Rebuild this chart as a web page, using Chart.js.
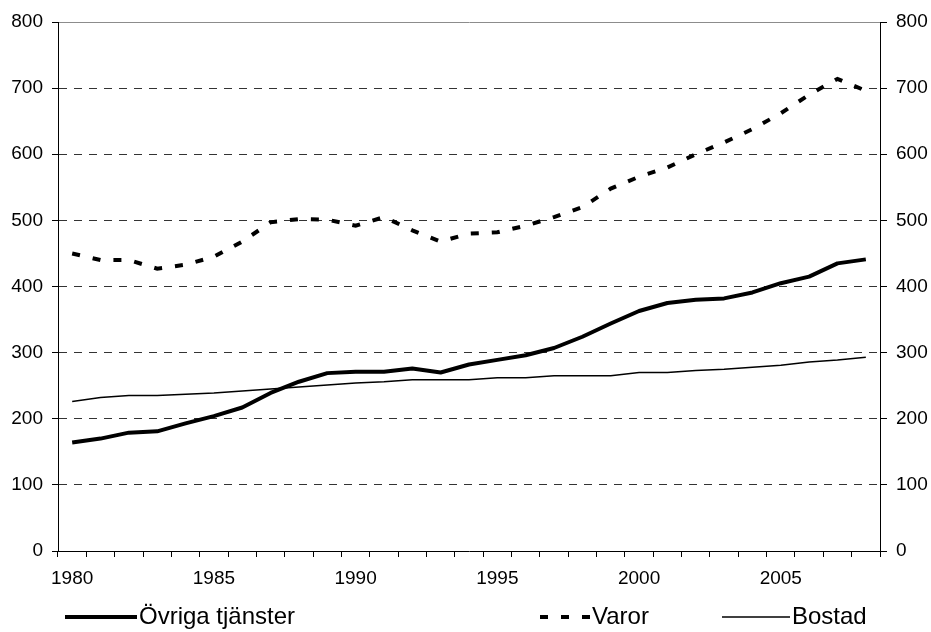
<!DOCTYPE html>
<html>
<head>
<meta charset="utf-8">
<script src="https://cdn.jsdelivr.net/npm/chart.js@4.4.0/dist/chart.umd.min.js"></script>
<style>
  html, body { margin: 0; padding: 0; background: #fff; }
  #wrap { width: 931px; height: 632px; }
</style>
</head>
<body>
<div id="wrap"><canvas id="chart" width="931" height="632"></canvas></div>
<script>
// år på x-axeln
const years = [1980, 1981, 1982, 1983, 1984, 1985, 1986, 1987, 1988, 1989,
  1990, 1991, 1992, 1993, 1994, 1995, 1996, 1997, 1998, 1999,
  2000, 2001, 2002, 2003, 2004, 2005, 2006, 2007, 2008];

const ovrigaTjanster = [164, 170, 179, 181, 193, 204, 217, 239, 256, 269,
  271, 271, 276, 270, 282, 289, 296, 307, 324, 344,
  363, 375, 380, 382, 391, 405, 415, 435, 441];

const varor = [450, 440, 440, 427, 433, 445, 468, 497, 502, 501,
  492, 505, 485, 468, 480, 482, 492, 505, 520, 548,
  566, 580, 600, 618, 638, 662, 690, 714, 696];

const bostad = [226, 232, 235, 235, 237, 239, 242, 245, 248, 251,
  254, 256, 259, 259, 259, 262, 262, 265, 265, 265,
  270, 270, 273, 275, 278, 281, 286, 289, 293];

const yTicks = [0, 100, 200, 300, 400, 500, 600, 700, 800];

// legendens placering (linjeprov + text)
const legendSlots = [
  { x0: 65, x1: 137 },
  { x0: 527, x1: 590 },
  { x0: 722, x1: 790 }
];
const legendY = 617;

Chart.defaults.font.family = '"Liberation Sans", Arial, sans-serif';
Chart.defaults.color = "#000";

const bottomLegend = {
  id: "bottomLegend",
  afterDraw(chart) {
    const ctx = chart.ctx;
    chart.data.datasets.forEach((ds, i) => {
      const slot = legendSlots[i];
      ctx.save();
      ctx.strokeStyle = ds.borderColor;
      ctx.lineWidth = ds.borderWidth;
      ctx.setLineDash(ds.borderDash || []);
      // streckat prov ska sluta med ett streck intill texten
      ctx.lineDashOffset = ds.borderDash ? ds.borderDash[0] : 0;
      ctx.beginPath();
      ctx.moveTo(slot.x0, legendY);
      ctx.lineTo(slot.x1, legendY);
      ctx.stroke();
      ctx.setLineDash([]);
      ctx.fillStyle = "#000";
      ctx.font = '24px "Liberation Sans", Arial, sans-serif';
      ctx.textBaseline = "middle";
      ctx.fillText(ds.label, slot.x1 + 2, legendY);
      ctx.restore();
    });
  }
};

const yMin = yTicks[0];
const yMax = yTicks[yTicks.length - 1];

new Chart(document.getElementById("chart").getContext("2d"), {
  type: "line",
  data: {
    labels: years,
    datasets: [
      {
        label: "Övriga tjänster",
        data: ovrigaTjanster,
        borderColor: "#000",
        borderWidth: 4,
        pointRadius: 0,
        tension: 0,
        borderJoinStyle: "round"
      },
      {
        label: "Varor",
        data: varor,
        borderColor: "#000",
        borderWidth: 4,
        borderDash: [8, 13],
        pointRadius: 0,
        tension: 0
      },
      {
        label: "Bostad",
        data: bostad,
        borderColor: "#000",
        borderWidth: 1.5,
        pointRadius: 0,
        tension: 0
      }
    ]
  },
  options: {
    responsive: false,
    animation: false,
    devicePixelRatio: 1,
    layout: { padding: { top: 22, left: 0, right: 0, bottom: 0 } },
    plugins: {
      legend: { display: false },
      tooltip: { enabled: false }
    },
    scales: {
      x: {
        type: "category",
        position: "bottom",
        offset: true,
        grid: {
          display: true,
          drawOnChartArea: false,
          offset: true,
          color: "#000",
          tickLength: 6
        },
        border: { color: "#000", width: 1 },
        ticks: {
          autoSkip: false,
          maxRotation: 0,
          minRotation: 0,
          padding: 10,
          font: { size: 19 },
          callback: (v, i) => (years[i] % 5 === 0 ? String(years[i]) : "")
        },
        afterFit: s => { s.height = 81; }
      },
      xTop: {
        type: "category",
        position: "top",
        offset: true,
        grid: { display: false, drawTicks: false },
        ticks: { display: false },
        border: { color: "#8c8c8c", width: 1 },
        afterFit: s => { s.height = 0; }
      },
      y: {
        position: "left",
        min: yMin,
        max: yMax,
        ticks: { stepSize: 100, padding: 9, font: { size: 19 } },
        grid: {
          color: c => (c.tick && (c.tick.value === yMax || c.tick.value === yMin)) ? "rgba(0,0,0,0)" : "#333",
          tickColor: "#000",
          tickBorderDash: [],
          tickLength: 6
        },
        border: { color: "#000", width: 1, dash: [8, 7] },
        afterFit: s => { s.width = 58; }
      },
      y2: {
        position: "right",
        min: yMin,
        max: yMax,
        ticks: { stepSize: 100, padding: 9, font: { size: 19 } },
        grid: {
          drawOnChartArea: false,
          color: "#000",
          tickLength: 7
        },
        border: { color: "#000", width: 1 },
        afterFit: s => { s.width = 51; }
      }
    }
  },
  plugins: [bottomLegend]
});
</script>
</body>
</html>
